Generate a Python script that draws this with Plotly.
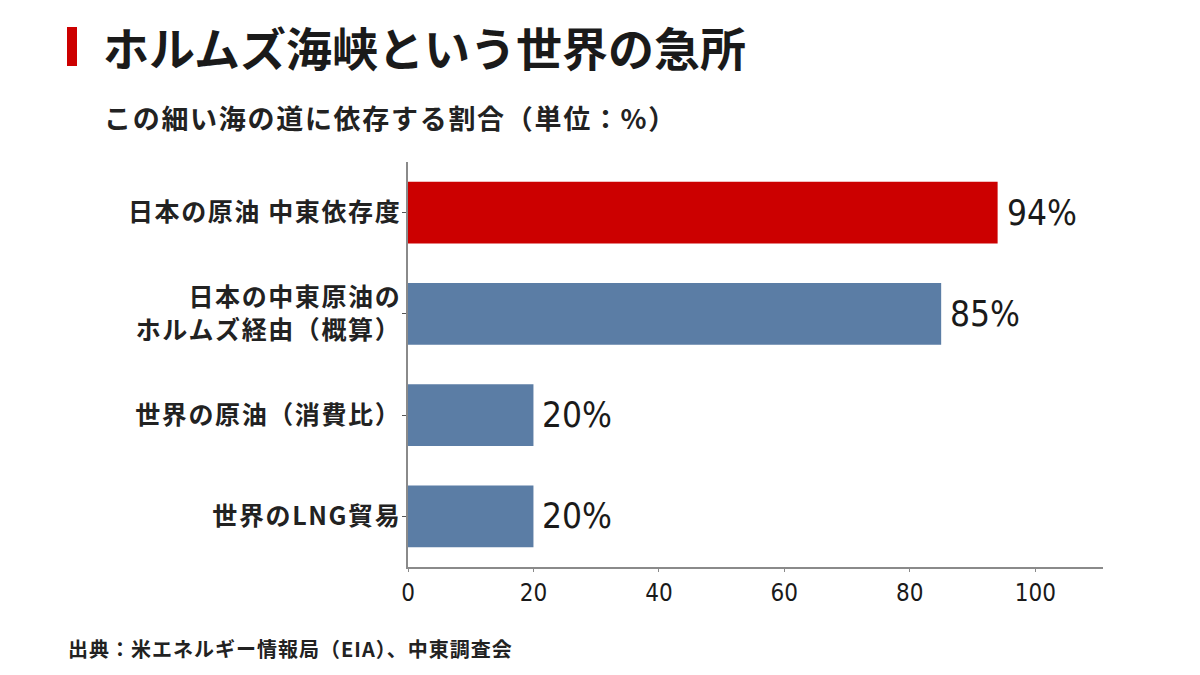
import plotly.graph_objects as go

# data
categories = ['日本の原油 中東依存度', '日本の中東原油の<br>ホルムズ経由（概算）',
              '世界の原油（消費比）', '世界のLNG貿易']
values = [94, 85, 20, 20]
bar_colors = ['#CC0000', '#5B7DA5', '#5B7DA5', '#5B7DA5']
x_ticks = [0, 20, 40, 60, 80, 100]

jp_font = 'Noto Sans CJK JP'
num_font = 'DejaVu Sans Condensed'


def spaced(text, px):
    # widen the CJK text a little, like the reference lettering
    return f'<span style="letter-spacing:{px}px">{text}</span>'


fig = go.Figure()
fig.add_trace(go.Bar(
    x=values, y=categories, orientation='h',
    marker=dict(color=bar_colors, line=dict(width=0)),
    width=0.61, hoverinfo='skip',
))

# value labels next to bar ends
for v, c in zip(values, categories):
    fig.add_annotation(x=v, y=c, text=f'{v}%', showarrow=False,
                       xanchor='left', yanchor='middle', xshift=7,
                       font=dict(family=num_font, size=35, color='#1a1a1a'))

# page body has an 8px margin, so the figure is laid out 8px up/left of the reference
fig.update_layout(
    width=1200, height=675,
    margin=dict(l=400, r=105, t=154, b=116),
    plot_bgcolor='white', paper_bgcolor='white',
    showlegend=False,
    font=dict(family=jp_font, color='#222222'),
)

fig.update_xaxes(
    range=[0, 110.8], tickvals=x_ticks, showgrid=False, zeroline=False,
    showline=True, linecolor='#8a8a8a', linewidth=2,
    ticks='outside', ticklen=3, tickcolor='#8a8a8a', ticklabelstandoff=0,
    tickfont=dict(family=num_font, size=24, color='#1a1a1a'),
)
fig.update_yaxes(
    categoryorder='array', categoryarray=categories[::-1],
    tickvals=categories, ticktext=[spaced(c, 1.6) for c in categories],
    showgrid=False, zeroline=False,
    showline=True, linecolor='#8a8a8a', linewidth=1.5,
    ticks='outside', ticklen=4, tickcolor='#555555', ticklabelstandoff=-4,
    tickfont=dict(family=jp_font, size=25, color='#222222', weight='bold'),
)

# headline with red marker
fig.add_shape(type='rect', xref='paper', yref='paper',
              x0=(67 - 408) / 695, x1=(77 - 408) / 695,
              y0=(567 - 66) / 405, y1=(567 - 27) / 405,
              fillcolor='#CC0000', line=dict(width=0))
fig.add_annotation(xref='paper', yref='paper', x=(101 - 408) / 695, y=(567 - 46) / 405,
                   xanchor='left', yanchor='middle', showarrow=False,
                   text='ホルムズ海峡という世界の急所',
                   font=dict(family=jp_font, size=46, color='#1a1a1a', weight='bold'))
fig.add_annotation(xref='paper', yref='paper', x=(102 - 408) / 695, y=(567 - 118) / 405,
                   xanchor='left', yanchor='middle', showarrow=False,
                   text=spaced('この細い海の道に依存する割合（単位：%）', 1.7),
                   font=dict(family=jp_font, size=27, color='#222222', weight='bold'))
fig.add_annotation(xref='paper', yref='paper', x=(66 - 408) / 695, y=(567 - 648) / 405,
                   xanchor='left', yanchor='middle', showarrow=False,
                   text=spaced('出典：米エネルギー情報局（EIA）、中東調査会', 1),
                   font=dict(family=jp_font, size=20, color='#222222', weight='bold'))

fig.write_html('out.html')
